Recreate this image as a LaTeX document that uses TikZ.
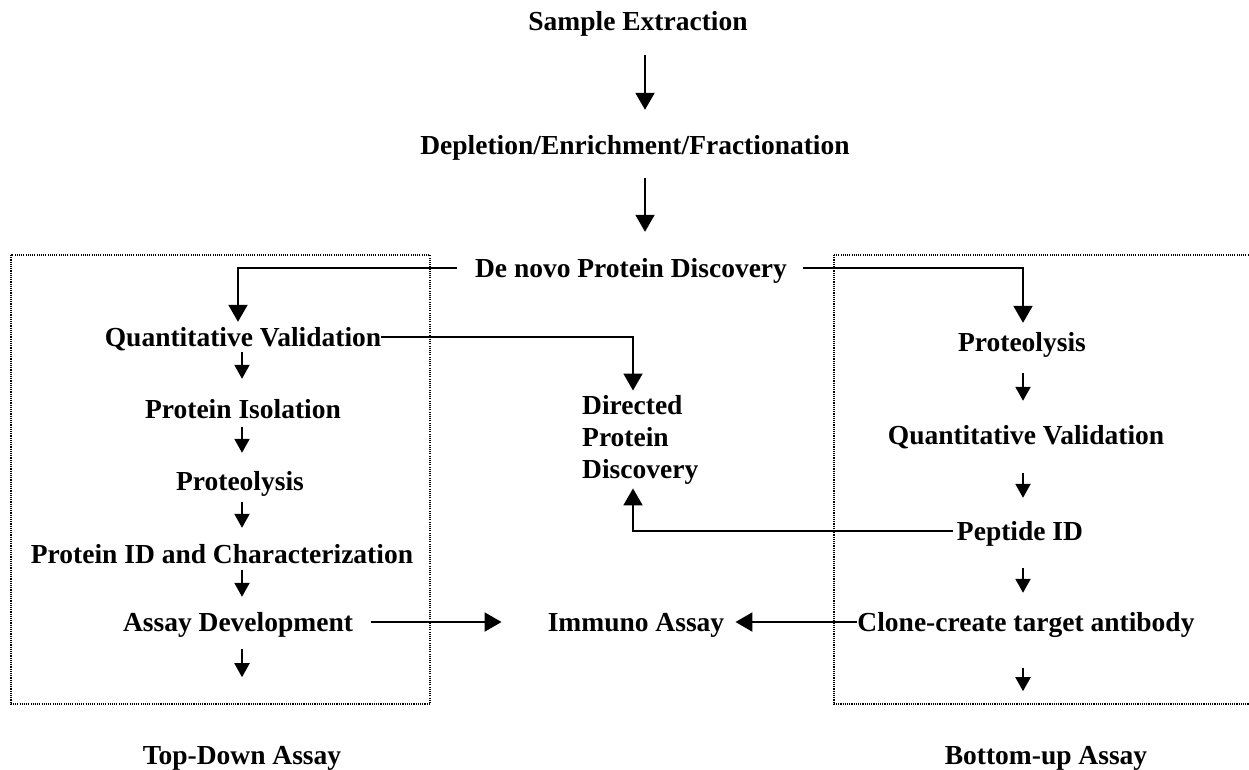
\documentclass[tikz,border=0pt]{standalone}
\usepackage{fontspec}
\setmainfont{Liberation Serif}
\usetikzlibrary{arrows.meta}
\begin{document}
\begin{tikzpicture}[x=1pt,y=-1pt,
  tx/.style={font=\bfseries\fontsize{27.5}{32}\selectfont, inner sep=0pt},
  lbl/.style={tx, text height=18pt, text depth=0pt},
  arr/.style={line width=2pt, -{Triangle[length=17pt,width=19pt]}},
  sarr/.style={line width=2pt, -{Triangle[length=14pt,width=15pt]}},
  conn/.style={line width=2pt},
  grp/.style={line width=1.2pt, dash pattern=on 1.1pt off 1.1pt}]
\useasboundingbox (0,0) rectangle (1249,769);

% group boxes
\draw[grp] (11,255) rectangle (430,704);
\draw[grp] (834,255) rectangle (1260,704);

% column guides
\coordinate (cM) at (645,0);
\coordinate (cL) at (238,0);
\coordinate (cLs) at (242,0);
\coordinate (cR) at (1023,0);
\coordinate (cD) at (633,0);

% nodes
\node[lbl] (se) at (638,21) {Sample Extraction};
\node[lbl] (def) at (635,145) {Depletion/Enrichment/Fractionation};
\node[lbl] (dn) at (631,268) {De novo Protein Discovery};
\node[lbl] (qvL) at (243,337) {Quantitative Validation};
\node[lbl] (pi) at (243,409) {Protein Isolation};
\node[lbl] (prL) at (240,481) {Proteolysis};
\node[lbl] (pid) at (222,554) {Protein ID and Characterization};
\node[lbl] (ad) at (238,622) {Assay Development};
\node[lbl] (prR) at (1022,342) {Proteolysis};
\node[lbl] (qvR) at (1026,435) {Quantitative Validation};
\node[lbl] (pep) at (1020,531) {Peptide ID};
\node[lbl] (clone) at (1026,622) {Clone-create target antibody};
\node[lbl] (imm) at (636,622) {Immuno Assay};
\node[tx, align=left, anchor=north west] (dpd) at (582,395.5) {Directed\\Protein\\Discovery};
\node[lbl] (td) at (242,755) {Top-Down Assay};
\node[lbl] (bu) at (1046,755) {Bottom-up Assay};

% main flow
\draw[arr, shorten <=25pt, shorten >=26pt] (se.south -| cM) -- (def.north -| cM);
\draw[arr, shorten <=24pt, shorten >=27pt] (def.south -| cM) -- (dn.north -| cM);

% split from de novo discovery
\draw[arr, shorten >=6pt] ([xshift=-18pt]dn.west) -| (qvL.north -| cL);
\draw[arr, shorten >=10pt] ([xshift=16pt]dn.east) -| (prR.north -| cR);

% to directed protein discovery
\draw[arr, shorten >=5pt] (qvL.east) -| (dpd.north -| cD);
\draw[arr, shorten >=3.5pt] ([xshift=-4pt]pep.west) -| (dpd.south -| cD);

% top-down column
\draw[sarr, shorten <=6pt, shorten >=21pt] (qvL.south -| cLs) -- (pi.north -| cLs);
\draw[sarr, shorten <=9pt, shorten >=19pt] (pi.south -| cLs) -- (prL.north -| cLs);
\draw[sarr, shorten <=12pt, shorten >=17pt] (prL.south -| cLs) -- (pid.north -| cLs);
\draw[sarr, shorten <=7pt, shorten >=16pt] (pid.south -| cLs) -- (ad.north -| cLs);
\coordinate (tdEnd) at ([yshift=-46pt]ad.south -| cLs);
\draw[sarr, shorten <=18pt] (ad.south -| cLs) -- (tdEnd);

% bottom-up column
\draw[sarr, shorten <=22pt, shorten >=25pt] (prR.south -| cR) -- (qvR.north -| cR);
\draw[sarr, shorten <=29pt, shorten >=24pt] (qvR.south -| cR) -- (pep.north -| cR);
\draw[sarr, shorten <=28pt, shorten >=20pt] (pep.south -| cR) -- (clone.north -| cR);
\coordinate (buEnd) at ([yshift=-60pt]clone.south -| cR);
\draw[sarr, shorten <=37pt] (clone.south -| cR) -- (buEnd);

% immuno assay
\draw[arr, shorten <=18pt, shorten >=46pt] (ad.east) -- (imm.west);
\draw[arr, shorten >=11pt] (clone.west) -- (imm.east);
\end{tikzpicture}
\end{document}
